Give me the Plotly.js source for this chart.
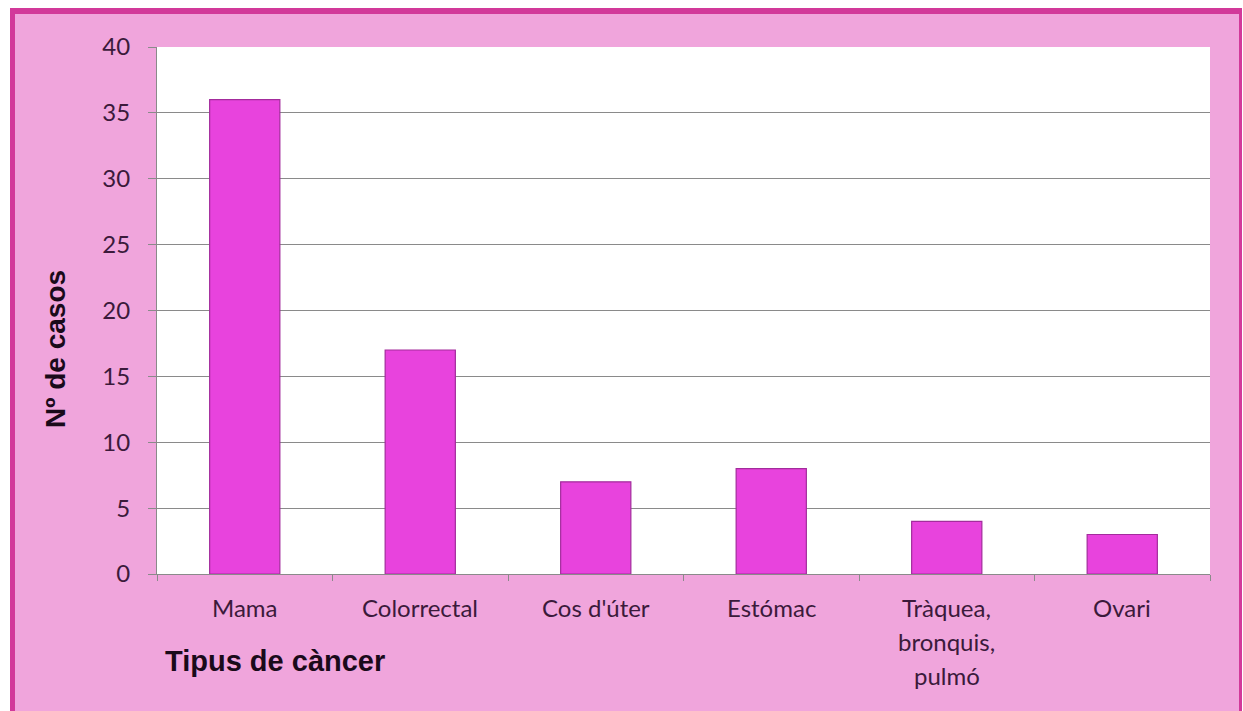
<!DOCTYPE html>
<html>
<head>
<meta charset="utf-8">
<script src="https://cdn.plot.ly/plotly-3.0.1.min.js"></script>
<style>
  html, body { margin: 0; padding: 0; background: #ffffff; width: 1243px; height: 711px; overflow: hidden; }
  #frame { position: absolute; left: 10px; top: 8px; width: 1232px; height: 710px; box-sizing: border-box;
           background: #F0A5DC; border-left: 5px solid #D2399A; border-top: 6px solid #D2399A; border-right: 3px solid #D2399A; }
  #chart { position: absolute; left: 0; top: 0; width: 1243px; height: 711px; }
</style>
</head>
<body>
<div id="frame"></div>
<div id="chart"></div>
<script>
// Data
const categories = ["Mama", "Colorrectal", "Cos d'úter", "Estómac", "Tràquea, bronquis, pulmó", "Ovari"];
const labelLines = [["Mama"], ["Colorrectal"], ["Cos d'úter"], ["Estómac"], ["Tràquea,", "bronquis,", "pulmó"], ["Ovari"]];
const cases = [36, 17, 7, 8, 4, 3];
const yTickVals = [0, 5, 10, 15, 20, 25, 30, 35, 40];
const xTitle = "Tipus de càncer";
const yTitle = "Nº de casos";

const textColor = "#3b1a3b";
const titleColor = "#1a0a1a";
const tickFont = { family: "Lato, 'Open Sans', sans-serif", size: 24, color: textColor };
const titleFont = { family: "'Liberation Sans', Arial, sans-serif", size: 28, color: titleColor };
const xTitleFont = { family: "'Liberation Sans', Arial, sans-serif", size: 29, color: titleColor };

const L = 157, R = 1210, T = 47, B = 574;
const W = R - L, H = B - T;

const annotations = [];
labelLines.forEach((lines, i) => {
  lines.forEach((ln, j) => {
    annotations.push({
      x: categories[i], xref: "x", y: 0, yref: "paper",
      yanchor: "middle", xanchor: "center", yshift: -33 - 34 * j,
      text: ln, showarrow: false, font: tickFont
    });
  });
});
annotations.push({
  x: (163 - L) / W, xref: "paper", xanchor: "left",
  y: -(661 - B) / H, yref: "paper", yanchor: "middle",
  text: "<b>" + xTitle + "</b>", showarrow: false, font: xTitleFont
});
annotations.push({
  x: (55 - L) / W, xref: "paper", xanchor: "center",
  y: (B - 349) / H, yref: "paper", yanchor: "middle",
  textangle: -90,
  text: "<b>" + yTitle + "</b>", showarrow: false, font: titleFont
});

const trace = {
  type: "bar",
  x: categories,
  y: cases,
  marker: { color: "#E843DD", line: { color: "#A32C9C", width: 1.2 } },
  hoverinfo: "none"
};

const layout = {
  width: 1243, height: 711,
  margin: { l: L, r: 1243 - R, t: T, b: 711 - B, pad: 0 },
  paper_bgcolor: "rgba(0,0,0,0)",
  plot_bgcolor: "#ffffff",
  showlegend: false,
  bargap: 0.6,
  xaxis: {
    type: "category",
    showticklabels: false,
    showgrid: false,
    showline: true, linecolor: "#8a8a8a", linewidth: 1,
    ticks: "outside", tickson: "boundaries", ticklen: 6, tickcolor: "#8a8a8a",
    fixedrange: true
  },
  yaxis: {
    range: [0, 40],
    tickvals: yTickVals,
    ticktext: yTickVals.map(String),
    showgrid: true, gridcolor: "#8a8a8a", gridwidth: 1,
    showline: true, linecolor: "#8a8a8a", linewidth: 1,
    ticks: "outside", ticklen: 8, tickcolor: "#8a8a8a",
    ticklabelstandoff: 13,
    tickfont: tickFont,
    zeroline: false,
    fixedrange: true
  },
  annotations: annotations
};

Plotly.newPlot("chart", [trace], layout, { displayModeBar: false, staticPlot: true });
</script>
</body>
</html>
